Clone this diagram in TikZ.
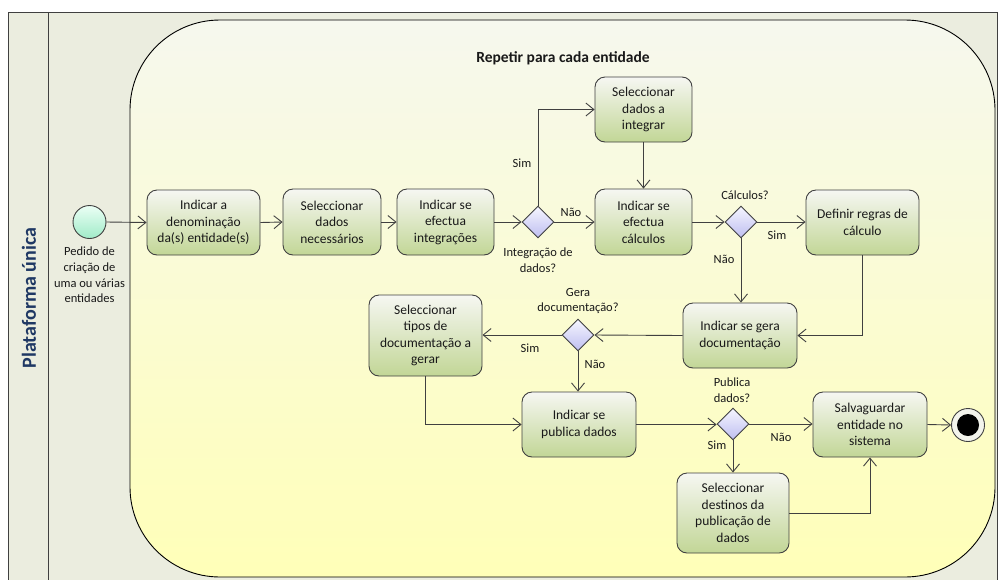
\documentclass[tikz,border=0pt]{standalone}
\usepackage{fontspec}
\setmainfont{Carlito}
\usetikzlibrary{shapes.geometric,arrows.meta}
\definecolor{lanefill}{RGB}{235,237,223}
\definecolor{regiontop}{RGB}{246,248,238}
\definecolor{regionbot}{RGB}{255,255,184}
\definecolor{boxtop}{RGB}{246,247,242}
\definecolor{boxbot}{RGB}{194,214,150}
\definecolor{dtop}{RGB}{246,246,255}
\definecolor{dbot}{RGB}{190,190,240}
\definecolor{edge}{RGB}{64,64,64}
\definecolor{lanetext}{RGB}{31,56,100}
\definecolor{starttop}{RGB}{235,255,245}
\definecolor{startbot}{RGB}{160,235,200}
\tikzset{
  txt/.style={font=\fontsize{13.5}{16.5}\selectfont, align=center, text=black!90},
  act/.style={txt, draw=edge, line width=0.9pt, rounded corners=10pt,
    top color=boxtop, bottom color=boxbot, inner sep=2pt},
  dec/.style={diamond, draw=edge, line width=0.9pt, top color=dtop, bottom color=dbot,
    minimum width=32pt, minimum height=32pt, inner sep=0pt},
  lbl/.style={font=\fontsize{12.5}{15.7}\selectfont, align=center, text=black!90, inner sep=1pt},
  flow/.style={draw=edge, line width=0.9pt, -{Straight Barb[length=8pt,width=13pt,line width=0.9pt]}},
}
\begin{document}
\begin{tikzpicture}[x=1pt,y=-1pt]
\useasboundingbox (0,0) rectangle (1000,579);
% swimlane
\fill[white] (0,0) rectangle (1000,579);
\draw[draw=edge, line width=0.9pt, fill=lanefill] (8,12) rectangle (997,590);
\draw[draw=edge, line width=0.9pt] (48,12) -- (48,590);
\node[rotate=90, font=\fontsize{20}{24}\selectfont\bfseries, text=lanetext] (lane) at (29,298) {Plataforma única};
% expansion region
\draw[draw=black, line width=0.9pt, rounded corners=90pt, top color=regiontop, bottom color=regionbot]
  (130,20) rectangle (995,577);
\node[font=\fontsize{15.5}{18}\selectfont\bfseries, text=black!90] (title) at (563,58) {Repetir para cada entidade};
% start / end
\node[circle, draw=edge, line width=0.9pt, top color=starttop, bottom color=startbot, minimum size=33pt, inner sep=0pt] (start) at (89.5,222) {};
\node[lbl] (startlbl) at (89.5,275) {Pedido de\\criação de\\uma ou várias\\entidades};
\node[circle, draw=edge, line width=0.9pt, fill=lanefill!60!white, minimum size=33pt, inner sep=0pt] (stop) at (968,425) {};
\node[circle, fill=black, minimum size=22pt, inner sep=0pt] (stopdot) at (stop.center) {};
% activities
\node[act, minimum width=113pt, minimum height=65pt] (a) at (203.5,222.5) {Indicar a\\denominação\\da(s) entidade(s)};
\node[act, minimum width=98pt, minimum height=66pt] (b) at (332,222) {Seleccionar\\dados\\necessários};
\node[act, minimum width=97pt, minimum height=66pt] (c) at (445.5,222) {Indicar se\\efectua\\integrações};
\node[act, minimum width=97pt, minimum height=65pt] (e) at (643.5,109.5) {Seleccionar\\dados a\\integrar};
\node[act, minimum width=97pt, minimum height=66pt] (f) at (643.5,222) {Indicar se\\efectua\\cálculos};
\node[act, minimum width=113pt, minimum height=65pt] (g) at (862.5,222.5) {Definir regras de\\cálculo};
\node[act, minimum width=114pt, minimum height=65pt] (h) at (740,335.5) {Indicar se gera\\documentação};
\node[act, minimum width=113pt, minimum height=81pt] (i) at (425.5,335.5) {Seleccionar\\tipos de\\documentação a\\gerar};
\node[act, minimum width=114pt, minimum height=65pt] (j) at (579,424.5) {Indicar se\\publica dados};
\node[act, minimum width=114pt, minimum height=65pt] (k) at (870,424.5) {Salvaguardar\\entidade no\\sistema};
\node[act, minimum width=112pt, minimum height=80pt] (l) at (733,513) {Seleccionar\\destinos da\\publicação de\\dados};
% decisions
\node[dec] (d1) at (538,222) {};
\node[dec] (d2) at (741,222) {};
\node[dec] (d3) at (578,335) {};
\node[dec] (d4) at (733,424) {};
% decision labels
\node[lbl] (d1q) at (538,260) {Integração de\\dados?};
\node[lbl] (d1y) at (522,163) {Sim};
\node[lbl] (d1n) at (571,212) {Não};
\node[lbl] (d2q) at (745,195) {Cálculos?};
\node[lbl] (d2y) at (777,235) {Sim};
\node[lbl] (d2n) at (724,259) {Não};
\node[lbl] (d3q) at (578,301) {Gera\\documentação?};
\node[lbl] (d3y) at (530,348) {Sim};
\node[lbl] (d3n) at (595,364) {Não};
\node[lbl] (d4q) at (732,390) {Publica\\dados?};
\node[lbl] (d4y) at (717,445) {Sim};
\node[lbl] (d4n) at (781,437) {Não};
% flows
\draw[flow] (start.east) -- (a.west);
\draw[flow] (a.east) -- (b.west);
\draw[flow] (b.east) -- (c.west);
\draw[flow] (c.east) -- (d1.west);
\draw[flow] (d1.north) |- (e.west);
\draw[flow] (d1.east) -- (f.west);
\draw[flow] (e.south) -- (f.north);
\draw[flow] (f.east) -- (d2.west);
\draw[flow] (d2.east) -- (d2.east -| g.west);
\draw[flow] (d2.south) -- (d2.south |- h.north);
\draw[flow] (g.south) |- (h.east);
\draw[flow] (h.west) -- (d3.east);
\draw[flow] (d3.west) -- (d3.west -| i.east);
\draw[flow] (d3.south) -- (d3.south |- j.north);
\draw[flow] (i.south) |- (j.west);
\draw[flow] (j.east) -- (j.east -| d4.west);
\draw[flow] (d4.east) -- (d4.east -| k.west);
\draw[flow] (d4.south) -- (d4.south |- l.north);
\draw[flow] (l.east) -| (k.south);
\draw[flow] (k.east) -- (stop.west);
\end{tikzpicture}
\end{document}
